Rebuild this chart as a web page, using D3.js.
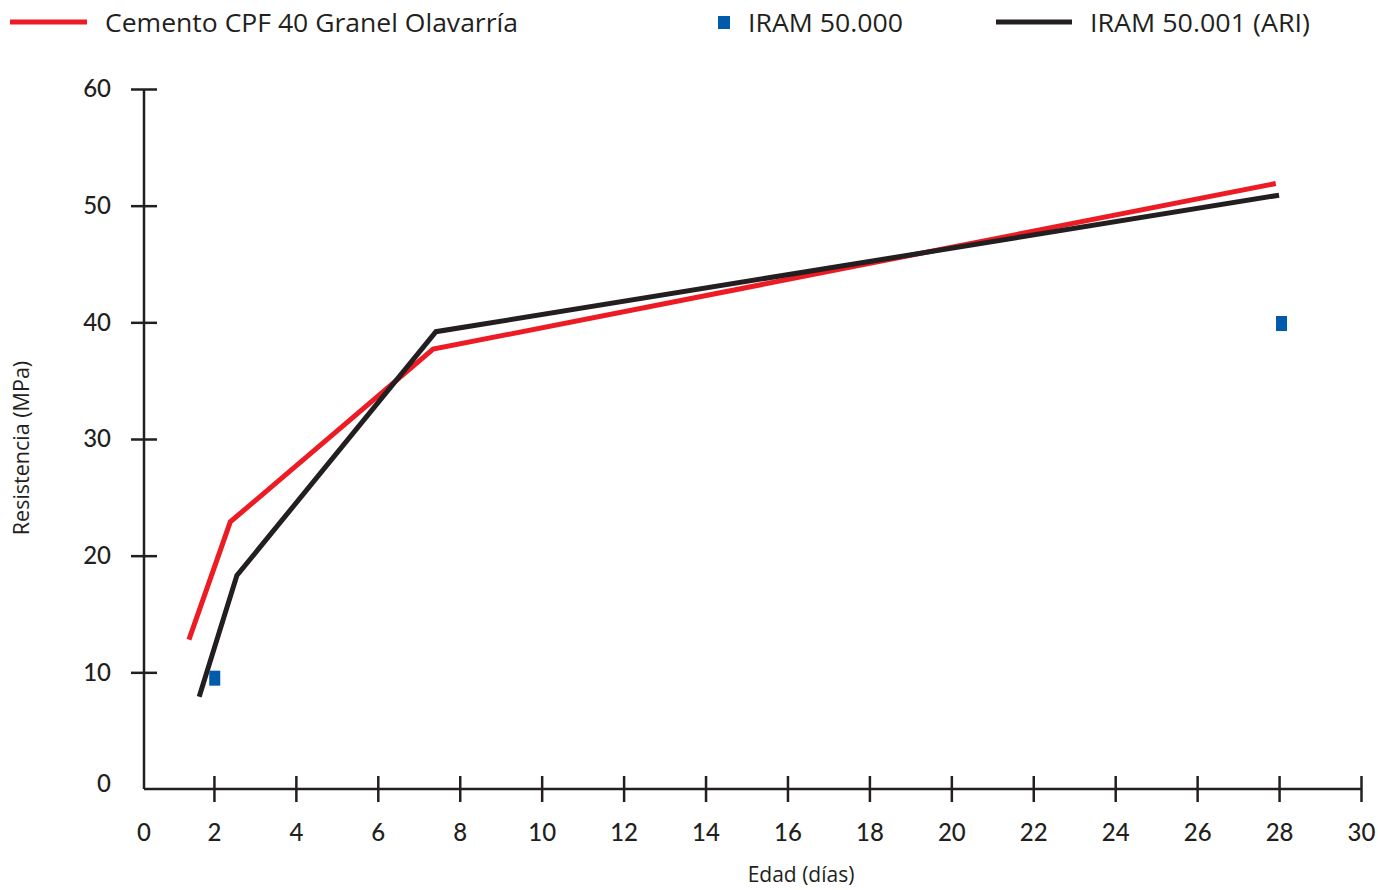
<!DOCTYPE html>
<html>
<head>
<meta charset="utf-8">
<script src="https://cdn.jsdelivr.net/npm/d3@7"></script>
<style>
  body { margin: 0; background: #fff; }
  svg { display: block; }
</style>
</head>
<body>
<div id="chart"></div>
<script>
// data
var cementoDays = [1.39, 2.4, 7.35, 27.92];
var cementoMPa = [12.8, 22.9, 37.7, 51.9];
var ariDays = [1.64, 2.56, 7.42, 28.0];
var ariMPa = [7.9, 18.3, 39.2, 50.9];
var iramDays = [2.02, 28.06];
var iramMPa = [9.5, 39.9];
var xTicks = [2, 4, 6, 8, 10, 12, 14, 16, 18, 20, 22, 24, 26, 28, 30];
var yTicks = [0, 10, 20, 30, 40, 50, 60];
var legendNames = ["Cemento CPF 40 Granel Olavarría", "IRAM 50.000", "IRAM 50.001 (ARI)"];

function init() {
  var w = 1378;
  var h = 890;
  var axisColor = "#231f20";
  var red = "#ed1c24";
  var blue = "#005baa";
  var dark = "#231f20";
  var tickFont = "Lato, 'Noto Sans', sans-serif";
  var textFont = "'Open Sans', 'Noto Sans', sans-serif";

  var svg = d3
    .select("#chart")
    .append("svg")
    .attr("width", w)
    .attr("height", h);

  // scales
  var x = d3.scaleLinear().domain([0, 30]).range([132, 1361]);
  var y = d3.scaleLinear().domain([0, 60]).range([789, 89]);
  var originX = 144;

  // x axis
  var xAxis = svg
    .append("g")
    .attr("transform", "translate(0," + y(0) + ")")
    .call(d3.axisBottom(x).tickValues(xTicks).tickSize(13).tickPadding(22));
  xAxis.select(".domain").remove();
  xAxis.selectAll(".tick line")
    .attr("y1", -13)
    .attr("stroke", axisColor)
    .attr("stroke-width", 2.5);
  xAxis.selectAll(".tick text")
    .attr("font-family", tickFont)
    .attr("font-size", "24px")
    .attr("font-weight", 500)
    .attr("fill", axisColor);
  xAxis.append("line")
    .attr("x1", originX)
    .attr("x2", x(30))
    .attr("stroke", axisColor)
    .attr("stroke-width", 2.5);
  xAxis.append("text")
    .attr("x", originX)
    .attr("y", 35)
    .attr("dy", "0.71em")
    .attr("text-anchor", "middle")
    .attr("font-family", tickFont)
    .attr("font-size", "24px")
    .attr("font-weight", 500)
    .attr("fill", axisColor)
    .text("0");

  // y axis
  var yAxis = svg
    .append("g")
    .attr("transform", "translate(" + originX + ",0)")
    .call(d3.axisLeft(y).tickValues(yTicks).tickSize(13).tickPadding(20));
  yAxis.select(".domain").remove();
  yAxis.selectAll(".tick line")
    .attr("x1", 13)
    .attr("stroke", axisColor)
    .attr("stroke-width", 2.5)
    .filter(function (d) { return d === 0; })
    .remove();
  yAxis.selectAll(".tick text")
    .attr("font-family", tickFont)
    .attr("font-size", "24px")
    .attr("font-weight", 500)
    .attr("fill", axisColor);
  yAxis.selectAll(".tick")
    .filter(function (d) { return d === 0; })
    .select("text")
    .attr("dy", "0.1em");
  yAxis.append("line")
    .attr("y1", y(60))
    .attr("y2", y(0))
    .attr("stroke", axisColor)
    .attr("stroke-width", 2.5);

  // axis titles
  svg.append("text")
    .attr("x", 801)
    .attr("y", 882)
    .attr("text-anchor", "middle")
    .attr("font-family", textFont)
    .attr("font-size", "21px")
    .attr("fill", axisColor)
    .text("Edad (días)");

  svg.append("text")
    .attr("transform", "translate(29,448) rotate(-90)")
    .attr("text-anchor", "middle")
    .attr("font-family", textFont)
    .attr("font-size", "21.5px")
    .attr("fill", axisColor)
    .text("Resistencia (MPa)");

  // lines
  var line = d3.line()
    .x(function (d) { return x(d[0]); })
    .y(function (d) { return y(d[1]); });

  svg.append("path")
    .datum(d3.zip(cementoDays, cementoMPa))
    .attr("fill", "none")
    .attr("stroke", red)
    .attr("stroke-width", 5)
    .attr("d", line);

  svg.append("path")
    .datum(d3.zip(ariDays, ariMPa))
    .attr("fill", "none")
    .attr("stroke", dark)
    .attr("stroke-width", 5)
    .attr("d", line);

  svg.selectAll(".iram")
    .data(d3.zip(iramDays, iramMPa))
    .enter()
    .append("rect")
    .attr("class", "iram")
    .attr("x", function (d) { return x(d[0]) - 5.5; })
    .attr("y", function (d) { return y(d[1]) - 7.5; })
    .attr("width", 11)
    .attr("height", 15)
    .attr("fill", blue);

  // legend
  var legend = svg.append("g").attr("class", "legend");
  legend.append("line")
    .attr("x1", 10).attr("x2", 87)
    .attr("y1", 22).attr("y2", 22)
    .attr("stroke", red).attr("stroke-width", 5);
  legend.append("rect")
    .attr("x", 718).attr("y", 16)
    .attr("width", 12).attr("height", 13)
    .attr("fill", blue);
  legend.append("line")
    .attr("x1", 996).attr("x2", 1072)
    .attr("y1", 22).attr("y2", 22)
    .attr("stroke", dark).attr("stroke-width", 5);

  var legendX = [105, 748, 1090];
  var legendW = [413, 155, 220];
  legend.selectAll(".ltext")
    .data(legendNames)
    .enter()
    .append("text")
    .attr("class", "ltext")
    .attr("x", function (d, i) { return legendX[i]; })
    .attr("y", 32)
    .attr("textLength", function (d, i) { return legendW[i]; })
    .attr("lengthAdjust", "spacingAndGlyphs")
    .attr("font-family", textFont)
    .attr("font-size", "26px")
    .attr("fill", axisColor)
    .text(function (d) { return d; });
}

window.onload = init;
</script>
</body>
</html>
